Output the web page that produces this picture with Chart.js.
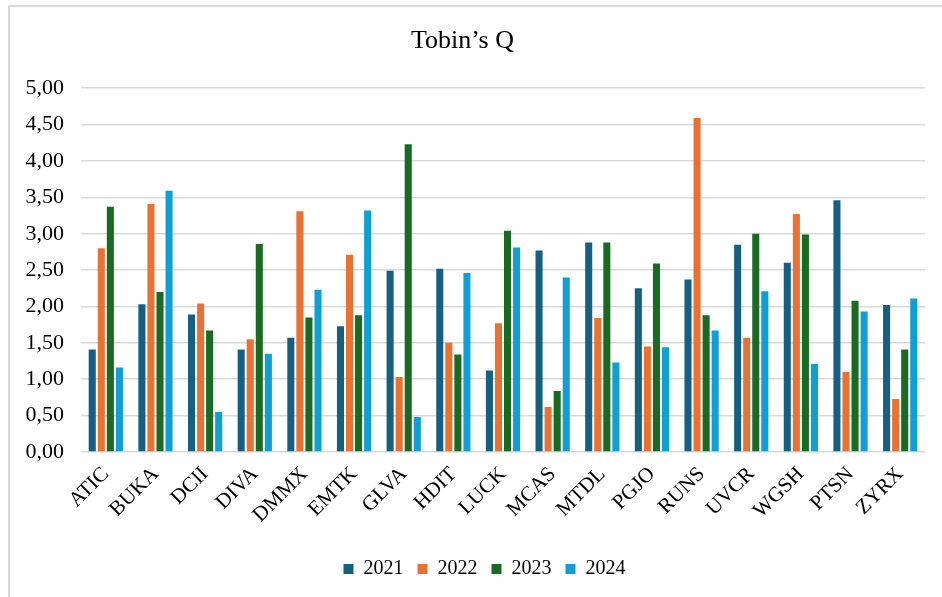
<!DOCTYPE html>
<html>
<head>
<meta charset="utf-8">
<script src="https://cdn.jsdelivr.net/npm/chart.js@4.4.1/dist/chart.umd.min.js"></script>
<style>
  html, body { margin: 0; padding: 0; background: #fff; }
  #wrap { position: relative; width: 942px; height: 597px; }
  #frame { position: absolute; left: 8px; top: 5px; right: 0; bottom: 0;
           border-top: 2px solid #d9d9d9; border-left: 2px solid #d9d9d9; }
  #tobinChart { position: absolute; left: 0; top: 0; }
</style>
</head>
<body>
<div id="wrap">
  <div id="frame"></div>
  <canvas id="tobinChart" width="942" height="597"></canvas>
</div>
<script>
// Datos del gráfico
const empresas = ["ATIC", "BUKA", "DCII", "DIVA", "DMMX", "EMTK", "GLVA", "HDIT", "LUCK",
                  "MCAS", "MTDL", "PGJO", "RUNS", "UVCR", "WGSH", "PTSN", "ZYRX"];
const anios = ["2021", "2022", "2023", "2024"];
const q2021 = [1.41, 2.03, 1.89, 1.41, 1.57, 1.73, 2.49, 2.52, 1.12, 2.77, 2.88, 2.25, 2.37, 2.85, 2.60, 3.46, 2.02];
const q2022 = [2.80, 3.41, 2.04, 1.55, 3.31, 2.71, 1.03, 1.50, 1.77, 0.62, 1.84, 1.45, 4.59, 1.57, 3.27, 1.10, 0.73];
const q2023 = [3.37, 2.20, 1.67, 2.86, 1.85, 1.88, 4.23, 1.34, 3.04, 0.84, 2.88, 2.59, 1.88, 3.00, 2.99, 2.08, 1.41];
const q2024 = [1.16, 3.59, 0.55, 1.35, 2.23, 3.32, 0.48, 2.46, 2.81, 2.40, 1.23, 1.44, 1.67, 2.21, 1.21, 1.93, 2.11];
const colores = ['#156082', '#e97132', '#196b24', '#0f9ed5'];

const serie = [q2021, q2022, q2023, q2024];
const fuente = "'Liberation Serif', 'Times New Roman', serif";

// la leyenda del original va un poco a la derecha del centro
const moverLeyenda = {
    id: 'moverLeyenda',
    afterLayout(chart) {
        chart.legend.left += 22;
        chart.legend.right += 22;
    }
};

const ctx = document.getElementById('tobinChart').getContext('2d');
new Chart(ctx, {
    type: 'bar',
    data: {
        labels: empresas,
        datasets: anios.map((a, i) => ({
            label: a,
            data: serie[i],
            backgroundColor: colores[i],
            borderWidth: 0,
            categoryPercentage: 0.73,
            barPercentage: 0.78
        }))
    },
    options: {
        responsive: false,
        animation: false,
        layout: { padding: { left: 0, right: 17, top: 0, bottom: 8 } },
        plugins: {
            title: {
                display: true,
                text: 'Tobin’s Q',
                color: '#000',
                font: { family: fuente, size: 26, weight: 'normal' },
                padding: { top: 26, bottom: 31 }
            },
            legend: {
                position: 'bottom',
                labels: {
                    color: '#000',
                    font: { family: fuente, size: 20 },
                    boxWidth: 10,
                    boxHeight: 10,
                    padding: 14
                }
            },
            tooltip: { enabled: false }
        },
        scales: {
            x: {
                grid: { display: false },
                border: { display: false },
                ticks: {
                    color: '#000',
                    font: { family: fuente, size: 21 },
                    minRotation: 45,
                    maxRotation: 45,
                    padding: 2
                },
                afterFit: s => { s.height = 93; }
            },
            y: {
                min: 0,
                max: 5,
                border: { display: false },
                grid: { color: '#d9d9d9', lineWidth: 1.5, drawTicks: false },
                ticks: {
                    stepSize: 0.5,
                    color: '#000',
                    padding: 17,
                    font: { family: fuente, size: 22 },
                    callback: v => v.toFixed(2).replace('.', ',')
                },
                afterFit: s => { s.width = 81; }
            }
        }
    },
    plugins: [moverLeyenda]
});
</script>
</body>
</html>
